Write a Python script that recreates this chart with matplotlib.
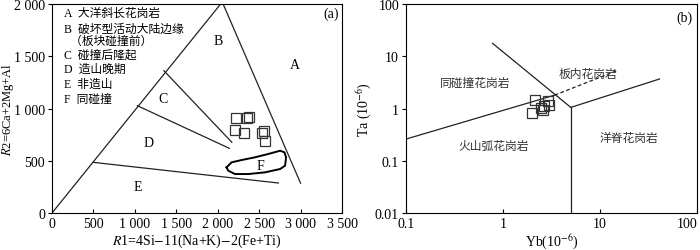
import matplotlib
matplotlib.use("Agg")
import matplotlib.pyplot as plt
import numpy as np

plt.rcParams['font.family'] = ['Liberation Serif', 'Noto Sans CJK SC', 'DejaVu Sans']
plt.rcParams['mathtext.fontset'] = 'stix'
plt.rcParams['axes.unicode_minus'] = False

# ---- Panel (a) data: R1-R2 diagram ----
r1_samples = [2216, 2357, 2374, 2208, 2313, 2559, 2535, 2575]
r2_samples = [909, 906, 916, 794, 763, 788, 763, 686]

# boundary lines (R1, R2)
line_left_x = [0, 2035]; line_left_y = [0, 2000]
line_A_x = [2065, 3000]; line_A_y = [2000, 285]
line_BC_x = [1350, 2170]; line_BC_y = [1362, 677]
line_CD_x = [1030, 2140]; line_CD_y = [1027, 619]
line_DE_x = [496, 2732]; line_DE_y = [485, 287]
F_x = [2107, 2168, 2289, 2450, 2611, 2753, 2805, 2825, 2813, 2753, 2571, 2369, 2208, 2127, 2107]
F_y = [437, 485, 507, 533, 565, 596, 581, 533, 453, 421, 389, 373, 373, 405, 437]

a_xticks = [0, 500, 1000, 1500, 2000, 2500, 3000, 3500]
a_xticklabels = ['0', '500', '1 000', '1 500', '2 000', '2 500', '3 000', '3 500']
a_yticks = [0, 500, 1000, 1500, 2000]
a_yticklabels = ['0', '500', '1 000', '1 500', '2 000']

legend_items = ['A  大洋斜长花岗岩', 'B  破坏型活动大陆边缘', '  （板块碰撞前）', 'C  碰撞后隆起',
                'D  造山晚期', 'E  非造山', 'F  同碰撞']

# ---- Panel (b) data: Ta-Yb diagram ----
yb_samples = [2.16, 2.89, 3.01, 2.67, 2.47, 2.61, 1.98]
ta_samples = [1.46, 1.41, 1.18, 1.13, 1.02, 0.94, 0.82]

b_vert_x = [5, 5]; b_vert_y = [0.01, 1.05]
b_ur_x = [5, 41]; b_ur_y = [1.05, 3.67]
b_diag_x = [0.78, 5]; b_diag_y = [17.7, 1.05]
b_low_x = [0.1, 3.4]; b_low_y = [0.26, 1.8]
b_dash_x = [3.4, 15.3]; b_dash_y = [1.8, 5.4]

b_ticks = [0.01, 0.1, 1, 10, 100]
b_ticklabels = ['0.01', '0.1', '1', '10', '100']

fig = plt.figure(figsize=(7.0, 2.51), dpi=100)
axa = fig.add_axes([0.0743, 0.1474, 0.4143, 0.8326])
axb = fig.add_axes([0.58, 0.1474, 0.4157, 0.8326])

lw = 0.9
fs = 10

# Panel a
for xs, ys in [(line_left_x, line_left_y), (line_A_x, line_A_y), (line_BC_x, line_BC_y),
               (line_CD_x, line_CD_y), (line_DE_x, line_DE_y)]:
    axa.plot(xs, ys, color='#222222', lw=lw)
axa.plot(F_x, F_y, color='black', lw=1.4)
axa.plot(r1_samples, r2_samples, ls='none', marker='s', ms=7.5, mfc='none', mec='#333333', mew=0.9)
axa.set_xlim(0, 3500)
axa.set_ylim(0, 2000)
axa.set_xticks(a_xticks)
axa.set_xticklabels(a_xticklabels, fontsize=fs)
axa.set_yticks(a_yticks)
axa.set_yticklabels(a_yticklabels, fontsize=fs)
axa.tick_params(axis='x', direction='in', length=3, pad=3)
axa.tick_params(axis='y', direction='out', length=3, pad=2)
axa.set_xlabel(r'$\mathit{R}$1=4Si$-$11(Na+K)$-$2(Fe+Ti)', fontsize=fs, labelpad=1)
axa.set_ylabel(r'$\mathit{R}$2=6Ca+2Mg+Al', fontsize=9)
axa.yaxis.set_label_coords(-0.125, 0.5)

ys_leg = [1915, 1760, 1652, 1520, 1380, 1235, 1090]
for t, yv in zip(legend_items, ys_leg):
    axa.text(150, yv, t, fontsize=8.5, va='center', ha='left')
axa.text(3460, 1915, '(a)', fontsize=fs, ha='right', va='center')
for lab, xv, yv in [('B', 2000, 1655), ('A', 2930, 1420), ('C', 1340, 1095),
                    ('D', 1170, 670), ('E', 1030, 250), ('F', 2510, 455)]:
    axa.text(xv, yv, lab, fontsize=fs, ha='center', va='center')

# Panel b
for xs, ys in [(b_vert_x, b_vert_y), (b_ur_x, b_ur_y), (b_diag_x, b_diag_y), (b_low_x, b_low_y)]:
    axb.plot(xs, ys, color='#222222', lw=lw)
axb.plot(b_dash_x, b_dash_y, color='#222222', lw=lw, ls=(0, (3, 2)))
axb.plot(yb_samples, ta_samples, ls='none', marker='s', ms=7.5, mfc='none', mec='#333333', mew=0.9)
axb.set_xscale('log')
axb.set_yscale('log')
axb.set_xlim(0.1, 100)
axb.set_ylim(0.01, 100)
axb.set_xticks(b_ticks[1:])
axb.set_xticklabels(b_ticklabels[1:], fontsize=fs)
axb.get_xticklabels()[-1].set_horizontalalignment('right')
axb.set_yticks(b_ticks)
axb.set_yticklabels(b_ticklabels, fontsize=fs)
axb.minorticks_off()
axb.tick_params(axis='x', direction='in', length=3, pad=3)
axb.tick_params(axis='y', direction='out', length=3, pad=2)
axb.set_xlabel(r'Yb(10$^{-6}$)', fontsize=fs, labelpad=1)
axb.set_ylabel(r'Ta (10$^{-6}$)', fontsize=fs)
axb.yaxis.set_label_coords(-0.11, 0.5)
axb.text(0.985, 0.935, '(b)', transform=axb.transAxes, fontsize=fs, ha='right', va='center')
for t, xv, yv in [('同碰撞花岗岩', 0.52, 3.1), ('板内花岗岩', 7.5, 4.6),
                  ('火山弧花岗岩', 0.8, 0.19), ('洋脊花岗岩', 20, 0.27)]:
    axb.text(xv, yv, t, fontsize=8.5, ha='center', va='center', color='#333333')

fig.savefig('out.png', dpi=100)
